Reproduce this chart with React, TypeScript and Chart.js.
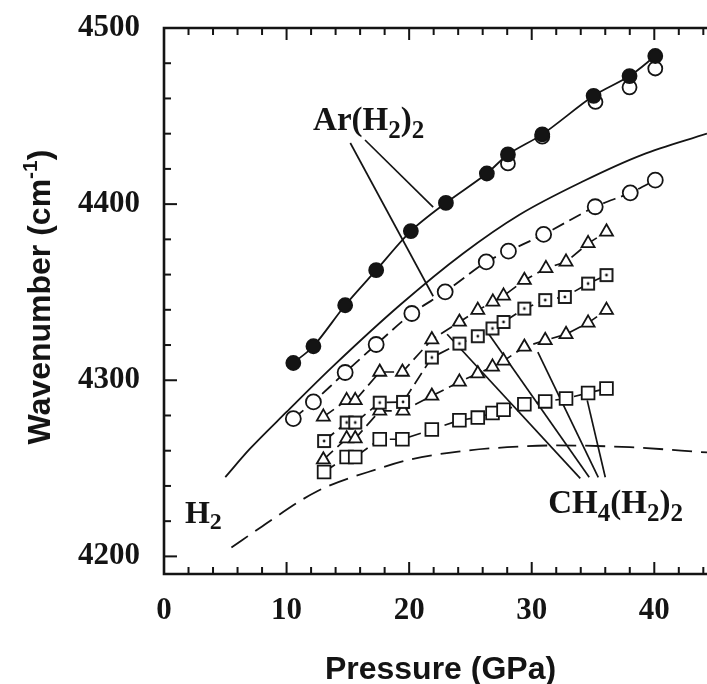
import React, { useEffect, useRef } from 'react';
import { Chart, registerables } from 'chart.js';

Chart.register(...registerables);

// ---------- axes ----------
const X_MIN = 0;
const X_MAX = 44.3;
const Y_MIN = 4190;
const Y_MAX = 4500;
const xTickValues = [0, 10, 20, 30, 40];
const yTickValues = [4200, 4300, 4400, 4500];

// ---------- Ar(H2)2 filled circles ----------
const arFilledP = [10.55, 12.19, 14.78, 17.31, 20.14, 23.0, 26.34, 28.06, 30.86, 35.05, 37.98, 40.08];
const arFilledW = [4309.8, 4319.3, 4342.6, 4362.5, 4384.7, 4400.7, 4417.4, 4428.2, 4439.6, 4461.5, 4472.7, 4484.1];

// ---------- Ar(H2)2 open circles (upper) ----------
const arOpenP = [28.06, 30.86, 35.2, 37.98, 40.08];
const arOpenW = [4423.1, 4438.3, 4458.0, 4466.3, 4477.0];

// ---------- Ar(H2)2 open circles (lower, dashed) ----------
const arLowP = [10.55, 12.19, 14.78, 17.31, 20.22, 22.94, 26.29, 28.1, 30.97, 35.18, 38.04, 40.08];
const arLowW = [4278.2, 4287.7, 4304.4, 4320.3, 4337.9, 4350.2, 4367.2, 4373.3, 4382.8, 4398.5, 4406.4, 4413.6];

// ---------- CH4(H2)2 series ----------
const triUpP = [13.0, 14.9, 15.6, 17.6, 19.45, 21.85, 24.1, 25.6, 26.83, 27.7, 29.4, 31.16, 32.8, 34.6, 36.1];
const triUpW = [4279.2, 4288.6, 4288.6, 4304.7, 4304.7, 4323.1, 4333.1, 4339.8, 4344.5, 4347.9, 4356.8, 4363.5, 4367.2, 4377.7, 4384.3];

const sqDotP = [13.06, 14.9, 15.6, 17.6, 19.5, 21.85, 24.1, 25.6, 26.8, 27.7, 29.4, 31.1, 32.7, 34.6, 36.1];
const sqDotW = [4265.5, 4276.0, 4276.0, 4287.3, 4287.7, 4312.9, 4320.8, 4325.0, 4329.4, 4333.1, 4340.7, 4345.5, 4347.3, 4354.9, 4359.7];

const triLowP = [13.0, 14.9, 15.6, 17.6, 19.5, 21.85, 24.1, 25.6, 26.8, 27.7, 29.4, 31.1, 32.8, 34.6, 36.1];
const triLowW = [4254.9, 4266.9, 4266.9, 4282.6, 4282.6, 4291.1, 4299.1, 4303.8, 4307.6, 4311.0, 4318.9, 4322.7, 4326.1, 4332.6, 4339.8];

const sqLowP = [13.06, 14.9, 15.6, 17.6, 19.45, 21.85, 24.1, 25.6, 26.8, 27.7, 29.4, 31.1, 32.8, 34.6, 36.1];
const sqLowW = [4247.9, 4256.4, 4256.4, 4266.5, 4266.5, 4272.0, 4277.3, 4278.8, 4281.4, 4283.3, 4286.4, 4288.0, 4289.6, 4292.8, 4295.3];

// ---------- pure H2 curves ----------
const h2SolidP = [5.0, 7.0, 10.0, 13.8, 19.3, 24.4, 29.0, 34.2, 39.0, 44.3];
const h2SolidW = [4245, 4261, 4282, 4308, 4343, 4372, 4394, 4413, 4428, 4440];

const h2DashP = [5.5, 8.0, 12.5, 17.6, 20.1, 24.0, 28.0, 32.0, 38.0, 44.3];
const h2DashW = [4205, 4217, 4237, 4250, 4255, 4259.5, 4262, 4263, 4262, 4259];

// ---------- annotation leader lines (data units) ----------
const arLeadFromP = [16.4, 15.2];
const arLeadFromW = [4436.4, 4434.7];
const arLeadToP = [21.96, 21.96];
const arLeadToW = [4398.3, 4347.7];

const chLeadFromP = [23.1, 26.45, 30.5, 34.53];
const chLeadFromW = [4326.1, 4326.7, 4316.0, 4288.6];
const chLeadToP = [33.96, 34.69, 35.43, 36.0];
const chLeadToW = [4244.3, 4244.9, 4244.9, 4244.9];

// ---------- annotation labels (anchor = left/baseline, data units) ----------
const labelArP = 12.16, labelArW = 4442;
const labelH2P = 1.71, labelH2W = 4218.8;
const labelChP = 31.35, labelChW = 4224.4;

const INK = '#141414';
const SERIF = '"Liberation Serif", "Times New Roman", serif';
const SANS = '"Liberation Sans", Arial, sans-serif';

const pts = (xs: number[], ys: number[]) => xs.map((x, i) => ({ x, y: ys[i] }));

type Piece = { t: string; sub?: boolean; sup?: boolean };

function drawRich(ctx: CanvasRenderingContext2D, pieces: Piece[], x: number, y: number, size: number, family: string, subSize: number, shift: number) {
  let cx = x;
  for (const p of pieces) {
    const small = p.sub || p.sup;
    ctx.font = `bold ${small ? subSize : size}px ${family}`;
    const dy = p.sub ? shift : p.sup ? -shift : 0;
    ctx.fillText(p.t, cx, y + dy);
    cx += ctx.measureText(p.t).width;
  }
  return cx - x;
}

function measureRich(ctx: CanvasRenderingContext2D, pieces: Piece[], size: number, family: string, subSize: number) {
  let w = 0;
  for (const p of pieces) {
    ctx.font = `bold ${p.sub || p.sup ? subSize : size}px ${family}`;
    w += ctx.measureText(p.t).width;
  }
  return w;
}

const decor = {
  id: 'decor',
  beforeDatasetsDraw(chart: any) {
    const { ctx, scales } = chart;
    const x = scales.x, y = scales.y;
    ctx.save();
    ctx.strokeStyle = INK;
    ctx.lineWidth = 1.7;
    const lines = (fp: number[], fw: number[], tp: number[], tw: number[]) => {
      for (let i = 0; i < fp.length; i++) {
        ctx.beginPath();
        ctx.moveTo(x.getPixelForValue(fp[i]), y.getPixelForValue(fw[i]));
        ctx.lineTo(x.getPixelForValue(tp[i]), y.getPixelForValue(tw[i]));
        ctx.stroke();
      }
    };
    lines(arLeadFromP, arLeadFromW, arLeadToP, arLeadToW);
    lines(chLeadFromP, chLeadFromW, chLeadToP, chLeadToW);
    ctx.restore();
  },
  afterDraw(chart: any) {
    const { ctx, chartArea, scales } = chart;
    const x = scales.x, y = scales.y;
    const { left, right, top, bottom } = chartArea;
    ctx.save();
    ctx.strokeStyle = INK;
    ctx.fillStyle = INK;
    // frame
    ctx.lineWidth = 2.6;
    ctx.beginPath();
    ctx.moveTo(right + 2, top);
    ctx.lineTo(left, top);
    ctx.lineTo(left, bottom);
    ctx.lineTo(right + 2, bottom);
    ctx.stroke();
    // inward ticks
    ctx.lineWidth = 2;
    for (let v = X_MIN; v <= X_MAX + 1e-6; v += 2) {
      const px = x.getPixelForValue(v);
      const major = Math.abs(v % 10) < 1e-6;
      const len = major ? 12 : 7;
      ctx.beginPath();
      ctx.moveTo(px, bottom);
      ctx.lineTo(px, bottom - len);
      ctx.moveTo(px, top);
      ctx.lineTo(px, top + len);
      ctx.stroke();
    }
    for (let v = 4200; v <= Y_MAX + 1e-6; v += 20) {
      const py = y.getPixelForValue(v);
      const major = Math.abs(v % 100) < 1e-6;
      const len = major ? 13 : 7;
      ctx.beginPath();
      ctx.moveTo(left, py);
      ctx.lineTo(left + len, py);
      ctx.stroke();
    }
    // labels
    ctx.textBaseline = 'alphabetic';
    ctx.textAlign = 'left';
    drawRich(ctx, [{ t: 'Ar(H' }, { t: '2', sub: true }, { t: ')' }, { t: '2', sub: true }],
      x.getPixelForValue(labelArP), y.getPixelForValue(labelArW), 33, SERIF, 25, 8);
    drawRich(ctx, [{ t: 'H' }, { t: '2', sub: true }],
      x.getPixelForValue(labelH2P), y.getPixelForValue(labelH2W), 32, SERIF, 24, 6);
    drawRich(ctx, [{ t: 'CH' }, { t: '4', sub: true }, { t: '(H' }, { t: '2', sub: true }, { t: ')' }, { t: '2', sub: true }],
      x.getPixelForValue(labelChP), y.getPixelForValue(labelChW), 33, SERIF, 25, 8);
    // x title
    const xt: Piece[] = [{ t: 'Pressure (GPa)' }];
    const xw = measureRich(ctx, xt, 32, SANS, 22);
    drawRich(ctx, xt, (left + right) / 2 + 5 - xw / 2, 679, 32, SANS, 22, 0);
    // y title (rotated)
    const yt: Piece[] = [{ t: 'Wavenumber (cm' }, { t: '-1', sup: true }, { t: ')' }];
    const yw = measureRich(ctx, yt, 32, SANS, 21);
    ctx.translate(50, (top + bottom) / 2 - 4);
    ctx.rotate(-Math.PI / 2);
    drawRich(ctx, yt, -yw / 2, 0, 32, SANS, 21, 13);
    ctx.restore();
  },
};

function makeSquareDot(): HTMLCanvasElement {
  const c = document.createElement('canvas');
  c.width = 18;
  c.height = 18;
  const g = c.getContext('2d')!;
  g.fillStyle = '#fff';
  g.fillRect(3, 3, 12, 12);
  g.strokeStyle = INK;
  g.lineWidth = 1.9;
  g.strokeRect(3, 3, 12, 12);
  g.fillStyle = INK;
  g.beginPath();
  g.arc(9, 9, 1.4, 0, Math.PI * 2);
  g.fill();
  return c;
}

export default function App() {
  const ref = useRef<HTMLCanvasElement | null>(null);
  useEffect(() => {
    const canvas = ref.current!;
    const sqDot = makeSquareDot();
    const lineDash = [13, 6];
    const chart = new Chart(canvas, {
      type: 'scatter',
      data: {
        datasets: [
          {
            label: 'Ar(H2)2 filled',
            data: pts(arFilledP, arFilledW),
            showLine: true,
            tension: 0.3,
            borderColor: INK,
            borderWidth: 1.8,
            pointStyle: 'circle',
            pointRadius: 7,
            pointBackgroundColor: INK,
            pointBorderColor: INK,
          },
          {
            label: 'Ar(H2)2 open upper',
            data: pts(arOpenP, arOpenW),
            showLine: false,
            pointStyle: 'circle',
            pointRadius: 7,
            pointBackgroundColor: 'rgba(255,255,255,0)',
            pointBorderColor: INK,
            pointBorderWidth: 1.8,
          },
          {
            label: 'Ar(H2)2 open lower',
            data: pts(arLowP, arLowW),
            showLine: true,
            tension: 0.3,
            borderColor: INK,
            borderWidth: 1.8,
            borderDash: lineDash,
            pointStyle: 'circle',
            pointRadius: 7.5,
            pointBackgroundColor: '#fff',
            pointBorderColor: INK,
            pointBorderWidth: 1.8,
          },
          {
            label: 'CH4 tri upper',
            data: pts(triUpP, triUpW),
            showLine: true,
            borderColor: INK,
            borderWidth: 1.7,
            borderDash: lineDash,
            pointStyle: 'triangle',
            pointRadius: 7.5,
            pointBackgroundColor: '#fff',
            pointBorderColor: INK,
            pointBorderWidth: 1.8,
          },
          {
            label: 'CH4 square dot',
            data: pts(sqDotP, sqDotW),
            showLine: true,
            borderColor: INK,
            borderWidth: 1.7,
            borderDash: lineDash,
            pointStyle: sqDot,
            pointRadius: 8,
          },
          {
            label: 'CH4 tri lower',
            data: pts(triLowP, triLowW),
            showLine: true,
            borderColor: INK,
            borderWidth: 1.7,
            borderDash: lineDash,
            pointStyle: 'triangle',
            pointRadius: 7.5,
            pointBackgroundColor: '#fff',
            pointBorderColor: INK,
            pointBorderWidth: 1.8,
          },
          {
            label: 'CH4 square',
            data: pts(sqLowP, sqLowW),
            showLine: true,
            borderColor: INK,
            borderWidth: 1.7,
            borderDash: lineDash,
            pointStyle: 'rect',
            pointRadius: 9,
            pointBackgroundColor: '#fff',
            pointBorderColor: INK,
            pointBorderWidth: 1.8,
          },
          {
            label: 'H2 solid',
            data: pts(h2SolidP, h2SolidW),
            showLine: true,
            cubicInterpolationMode: 'monotone',
            borderColor: INK,
            borderWidth: 1.8,
            pointRadius: 0,
          },
          {
            label: 'H2 dashed',
            data: pts(h2DashP, h2DashW),
            showLine: true,
            cubicInterpolationMode: 'monotone',
            borderColor: INK,
            borderWidth: 1.8,
            borderDash: [20, 9],
            pointRadius: 0,
          },
        ],
      },
      options: {
        animation: false,
        responsive: false,
        devicePixelRatio: 1,
        layout: { autoPadding: false, padding: { top: 28, left: 0, right: 0, bottom: 0 } },
        plugins: {
          legend: { display: false },
          tooltip: { enabled: false },
          title: { display: false },
        },
        scales: {
          x: {
            type: 'linear',
            min: X_MIN,
            max: X_MAX,
            grid: { display: false, drawTicks: false },
            border: { display: false },
            ticks: {
              color: INK,
              padding: 18,
              font: { family: SERIF, size: 31, weight: 'bold' },
              callback: (v: any) => String(v),
            },
            afterBuildTicks: (s: any) => {
              s.ticks = xTickValues.map((v) => ({ value: v }));
            },
            afterFit: (s: any) => {
              s.height = 110;
              s.paddingLeft = 0;
              s.paddingRight = 0;
            },
          },
          y: {
            type: 'linear',
            min: Y_MIN,
            max: Y_MAX,
            grid: { display: false, drawTicks: false },
            border: { display: false },
            ticks: {
              color: INK,
              padding: 24,
              font: { family: SERIF, size: 31, weight: 'bold' },
              callback: (v: any) => String(v),
            },
            afterBuildTicks: (s: any) => {
              s.ticks = yTickValues.map((v) => ({ value: v }));
            },
            afterFit: (s: any) => {
              s.width = 164;
              s.paddingTop = 0;
              s.paddingBottom = 0;
            },
          },
        },
      },
      plugins: [decor],
    } as any);
    return () => chart.destroy();
  }, []);
  return (
    <div style={{ position: 'fixed', left: 0, top: 0, width: 707, height: 684, background: '#fff' }}>
      <canvas ref={ref} width={707} height={684} style={{ display: 'block' }} />
    </div>
  );
}
